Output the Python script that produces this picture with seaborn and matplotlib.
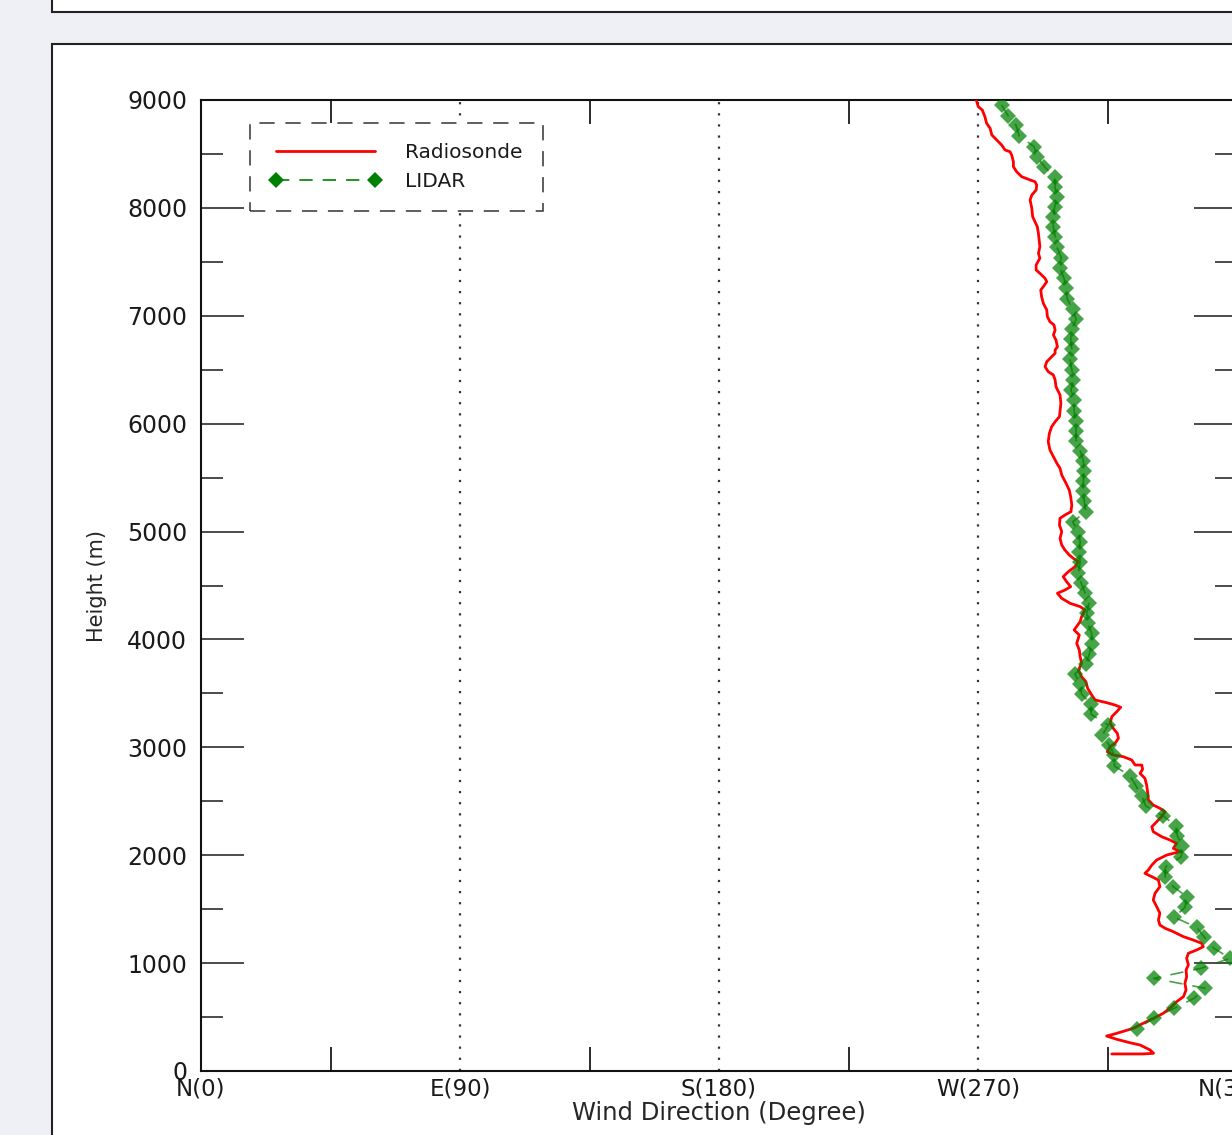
import numpy as np
import pandas as pd
import seaborn as sns
import matplotlib.pyplot as plt
from matplotlib.lines import Line2D
from matplotlib.patches import Rectangle
from matplotlib.ticker import FixedLocator, MultipleLocator

# radiosonde profile (wind direction in degree, height in m)
radiosonde_dir = [
    269.4, 270.1, 271.5, 272.4, 273.0, 274.2, 274.8, 276.5, 278.2, 279.4,
    281.1, 281.7, 282.3, 282.3, 283.4, 285.2, 288.1, 289.8, 290.4, 290.2,
    288.7, 288.1, 288.7, 289.0, 289.8, 290.6, 291.0, 291.3, 291.5, 291.0,
    291.5, 290.2, 290.2, 291.5, 293.3, 293.9, 292.7, 291.8, 292.1, 292.7,
    293.9, 294.1, 295.0, 296.4, 296.8, 296.2, 297.1, 297.6, 296.8, 296.8,
    295.6, 293.9, 293.3, 294.4, 296.2, 296.8, 297.1,
    298.5, 298.8, 298.5, 298.3, 296.8, 295.6, 294.8, 294.4, 295.0, 296.2,
    297.4, 298.5, 299.1, 300.6, 301.7, 302.2, 302.6, 302.3, 300.2, 298.5,
    298.3, 299.1, 298.5, 299.1, 300.2, 301.7, 303.1, 304.9, 303.7, 301.4,
    299.6, 300.8, 302.2, 300.2, 297.6, 299.1, 302.0, 305.5, 307.2, 306.0,
    305.5, 303.4, 305.2, 304.3, 305.2, 305.5, 306.0, 304.9, 306.0, 307.5,
    308.1, 309.5, 310.7,
    314.7, 317.6, 319.6, 318.2, 316.5, 315.9, 317.0, 318.4, 318.8, 317.6,
    315.9, 314.9, 317.0, 320.5, 323.4, 324.6, 326.9, 327.2, 326.3, 328.0,
    328.6, 329.0, 329.2, 330.9, 333.2, 335.0, 333.8, 332.1, 330.4, 330.9,
    333.8, 336.7, 339.0, 337.9, 340.2, 335.6, 332.1, 330.4, 329.2, 328.0,
    330.4, 332.7, 333.2, 331.5, 330.9, 332.1, 333.2, 332.7,
    333.2, 335.0, 337.9, 341.4, 344.8, 347.7, 348.3, 346.0, 343.1, 342.5,
    343.1, 342.3, 342.5, 341.9, 342.3, 341.4, 339.0, 337.3, 334.4, 331.0,
    327.4, 324.0, 318.2, 314.7, 318.2, 322.8, 326.3, 329.8, 331.0, 327.4,
    320.5, 316.5,
]
radiosonde_height = [
    9000, 8938, 8907, 8845, 8784, 8738, 8676, 8629, 8583, 8537,
    8521, 8490, 8428, 8382, 8336, 8289, 8259, 8243, 8212, 8166,
    8119, 8073, 7996, 7918, 7872, 7826, 7764, 7687, 7640, 7579,
    7533, 7471, 7424, 7394, 7347, 7316, 7270, 7239, 7177, 7116,
    7054, 6992, 6945, 6915, 6868, 6822, 6775, 6713, 6683, 6652,
    6621, 6574, 6528, 6482, 6451, 6405, 6343,
    6266, 6189, 6111, 6065, 6018, 5972, 5910, 5833, 5756, 5694,
    5633, 5586, 5524, 5447, 5385, 5323, 5246, 5184, 5153, 5123,
    5061, 4999, 4937, 4875, 4829, 4783, 4752, 4721, 4674, 4628,
    4582, 4535, 4489, 4458, 4428, 4381, 4335, 4304, 4273, 4211,
    4165, 4088, 4041, 3964, 3902, 3840, 3779, 3717, 3655, 3608,
    3547, 3485, 3439,
    3414, 3392, 3371, 3330, 3284, 3222, 3176, 3130, 3084, 3037,
    3006, 2959, 2929, 2913, 2883, 2836, 2836, 2796, 2759, 2713,
    2651, 2574, 2512, 2465, 2435, 2403, 2357, 2311, 2264, 2218,
    2172, 2141, 2110, 2064, 2033, 2002, 1956, 1909, 1863, 1832,
    1801, 1770, 1708, 1647, 1585, 1523, 1462, 1400,
    1353, 1323, 1291, 1245, 1214, 1184, 1152, 1122, 1091, 1045,
    983, 936, 874, 813, 751, 689, 642, 596, 535, 488,
    442, 396, 349, 324, 294, 262, 241, 195, 164, 158,
    158, 158,
]

# lidar profile
lidar_dir = [
    278.2, 280.5, 283.2, 284.3, 289.5, 290.4, 293.1, 296.6, 296.8, 297.4,
    296.6, 296.2, 296.2, 296.9, 297.4, 298.9, 298.5, 299.9, 300.6, 301.0,
    302.9, 304.1, 302.6, 302.2, 302.6, 302.0, 302.6, 303.1, 302.3, 303.4,
    303.4, 303.9, 304.1, 304.1, 305.5, 306.6, 306.8, 306.6, 306.6, 306.9,
    307.5, 302.9, 304.9, 305.5, 305.2, 305.5, 304.9, 305.8, 307.2, 308.6,
    307.8, 308.1, 309.5, 309.5, 308.7, 307.5, 303.7, 305.5, 306.0, 309.2,
    309.3, 315.3, 313.2, 315.5, 317.4, 317.4, 322.8, 324.9, 326.9, 328.3,
    334.4, 338.7, 339.3, 341.0, 340.6, 335.2, 335.0, 337.9, 342.5, 341.9,
    338.2, 346.0, 348.7, 352.0, 357.6, 347.5, 331.0, 348.9, 345.1, 338.2,
    331.0, 325.2,
]
lidar_height = [
    8954, 8852, 8768, 8667, 8568, 8475, 8382, 8284, 8191, 8098,
    8006, 7913, 7820, 7728, 7635, 7539, 7440, 7347, 7255, 7156,
    7063, 6967, 6875, 6782, 6689, 6597, 6498, 6405, 6312, 6220,
    6120, 6028, 5935, 5840, 5750, 5657, 5564, 5472, 5379, 5286,
    5184, 5091, 4999, 4906, 4813, 4715, 4619, 4526, 4433, 4341,
    4242, 4150, 4057, 3958, 3865, 3772, 3680, 3587, 3494, 3402,
    3306, 3207, 3114, 3022, 2929, 2827, 2737, 2642, 2549, 2456,
    2364, 2271, 2178, 2086, 1986, 1894, 1801, 1708, 1616, 1517,
    1425, 1332, 1239, 1137, 1045, 952, 859, 767, 674, 581,
    488, 389,
]

x_ticks = [0, 90, 180, 270, 360]
x_ticklabels = ["N(0)", "E(90)", "S(180)", "W(270)", "N(360)"]

df_sonde = pd.DataFrame({"direction": radiosonde_dir, "height": radiosonde_height})
df_lidar = pd.DataFrame({"direction": lidar_dir, "height": lidar_height})

sns.set_style("white")
plt.rcParams["font.family"] = ["DejaVu Sans"]
plt.rcParams["text.color"] = "#1a1a1a"
plt.rcParams["xtick.color"] = "#1a1a1a"
plt.rcParams["ytick.color"] = "#1a1a1a"

W, H = 1232, 1135
fig = plt.figure(figsize=(W / 100, H / 100), dpi=100, facecolor="#eef0f5")

# window panels of the screenshot, kept behind the axes
fig.add_artist(Rectangle((52 / W, 1 - 12 / H), 2, 1, transform=fig.transFigure,
                         facecolor="white", edgecolor="#222222", lw=1.5, zorder=-10))
fig.add_artist(Rectangle((52 / W, -0.2), 2, 0.2 + (H - 44) / H, transform=fig.transFigure,
                         facecolor="white", edgecolor="#222222", lw=1.5, zorder=-10))

ax = fig.add_axes([201 / W, 1 - 1071 / H, 1036 / W, 971 / H])
ax.set_facecolor("white")

sns.lineplot(data=df_sonde, x="direction", y="height", sort=False, estimator=None,
             color="red", lw=2.0, ax=ax, zorder=3)
sns.lineplot(data=df_lidar, x="direction", y="height", sort=False, estimator=None,
             color="green", lw=1.2, linestyle=(0, (8, 6)), marker="D", markersize=7.8,
             markeredgecolor="green", markeredgewidth=0, alpha=0.72, ax=ax, zorder=4)

ax.set_xlim(0, 360)
ax.set_ylim(0, 9000)

ax.xaxis.set_major_locator(FixedLocator(x_ticks))
ax.set_xticklabels(x_ticklabels, fontsize=16.5)
ax.xaxis.set_minor_locator(FixedLocator([45, 135, 225, 315]))
ax.yaxis.set_major_locator(MultipleLocator(1000))
ax.yaxis.set_minor_locator(MultipleLocator(500))
ax.tick_params(axis="y", labelsize=17)

ax.tick_params(axis="x", which="major", length=0, pad=5)
ax.tick_params(axis="x", which="minor", direction="in", length=17, width=1.3,
               top=True, bottom=True)
ax.tick_params(axis="y", which="major", direction="in", length=31, width=1.1,
               left=True, right=True, pad=10)
ax.tick_params(axis="y", which="minor", direction="in", length=16, width=1.1,
               left=True, right=True)

ax.grid(False)
for xv in [90, 180, 270]:
    ax.axvline(xv, color="#333333", lw=1.6, ls=(0, (1, 4)), zorder=1)

for sp in ax.spines.values():
    sp.set_linewidth(1.5)
    sp.set_color("#111111")

ax.set_xlabel("Wind Direction (Degree)", fontsize=17.5, labelpad=0)
ax.set_ylabel("Height (m)", fontsize=15, labelpad=14)

handles = [
    Line2D([], [], color="red", lw=2.0),
    Line2D([], [], color="green", lw=1.2, linestyle=(0, (8, 6)), marker="D",
           markersize=7.8, markeredgewidth=0),
]
leg = ax.legend(handles, ["Radiosonde", "LIDAR"], loc="upper left",
                bbox_to_anchor=(49 / 1036, (1071 - 123) / 971), borderaxespad=0,
                fontsize=14.5, handlelength=5.5, handletextpad=1.2, labelspacing=0.5,
                borderpad=1.0, numpoints=2, fancybox=False, framealpha=1,
                edgecolor="#333333")
frame = leg.get_frame()
frame.set_linestyle((0, (10, 7)))
frame.set_linewidth(1.1)

fig.savefig("out.png", dpi=100, facecolor=fig.get_facecolor())
